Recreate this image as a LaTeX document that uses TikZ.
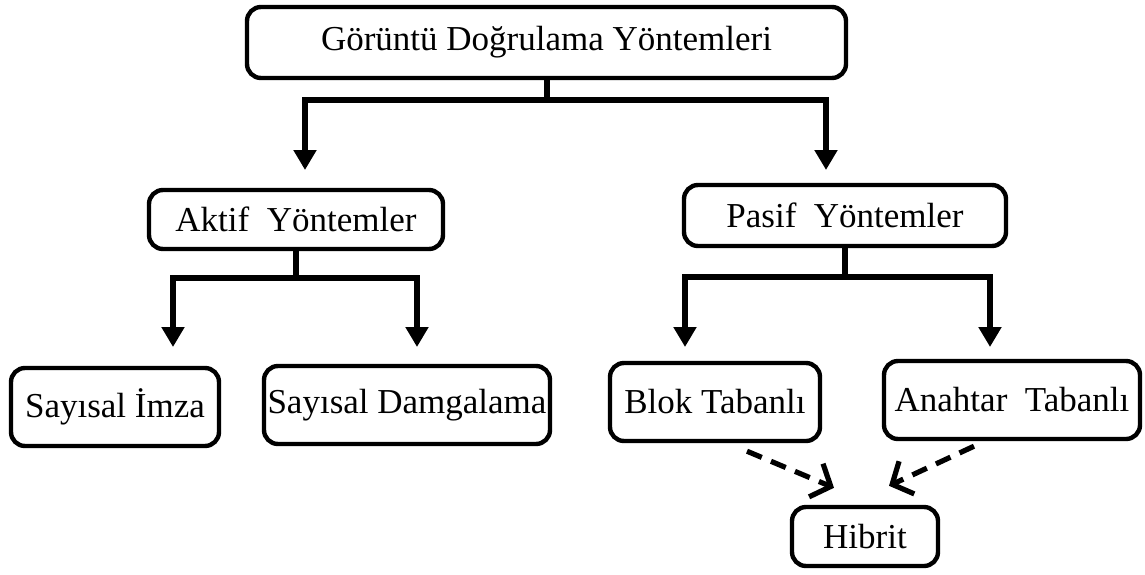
\documentclass[tikz,border=0pt]{standalone}
\usepackage{fontspec}
\setmainfont{Liberation Serif}
\usetikzlibrary{arrows.meta,positioning,calc}

\begin{document}
\begin{tikzpicture}[x=0.5pt,y=-0.5pt,
  box/.style={draw,line width=2.2pt,rounded corners=7pt,fill=white,inner sep=0pt,
    font=\fontsize{17.5}{20}\selectfont},
  stem/.style={line width=3pt},
  tree/.style={line width=3pt,-{Triangle[length=10pt,width=11pt]}},
  hint/.style={line width=2.6pt,dash pattern=on 8pt off 5pt,
    -{Straight Barb[length=8pt,width=18pt]}}]
\useasboundingbox (0,0) rectangle (1145,574);
% boxes
\node[box,minimum width=299.5pt,minimum height=35.5pt] (root) at (546.5,42.5) {Görüntü Doğrulama Yöntemleri};
\node[box,minimum width=147pt,minimum height=29.5pt] (aktif) at (296,219.5) {Aktif\ \ Yöntemler};
\node[box,minimum width=161pt,minimum height=30.5pt] (pasif) at (845,215.5) {Pasif\ \ Yöntemler};
\node[box,minimum width=104pt,minimum height=39pt] (imza) at (115,407) {Sayısal İmza};
\node[box,minimum width=143pt,minimum height=39pt] (damga) at (407,405) {Sayısal Damgalama};
\node[box,minimum width=105pt,minimum height=39pt] (blok) at (715,402) {Blok Tabanlı};
\node[box,minimum width=128pt,minimum height=39pt] (anahtar) at (1012,400) {Anahtar\ \ Tabanlı};
\node[box,minimum width=73pt,minimum height=29.5pt] (hibrit) at (865,536.5) {Hibrit};
% arrow ends
\coordinate (aktifIn) at (305,170);
\coordinate (pasifIn) at (826,170);
\coordinate (imzaIn) at (173,347);
\coordinate (damgaIn) at (417,347);
\coordinate (blokIn) at (685,347);
\coordinate (anahtarIn) at (990,347);
% root -> aktif / pasif
\draw[stem] (root.south) -- ++(0,20) coordinate (rootJ);
\draw[tree] (rootJ) -| (aktifIn);
\draw[tree] (rootJ) -| (pasifIn);
% aktif -> imza / damga
\draw[stem] (aktif.south) -- ++(0,27) coordinate (aktifJ);
\draw[tree] (aktifJ) -| (imzaIn);
\draw[tree] (aktifJ) -| (damgaIn);
% pasif -> blok / anahtar
\draw[stem] (pasif.south) -- ++(0,29) coordinate (pasifJ);
\draw[tree] (pasifJ) -| (blokIn);
\draw[tree] (pasifJ) -| (anahtarIn);
% dashed hints to hibrit
\coordinate (blokOut) at ($(blok.south)+(32,8)$);
\coordinate (anahtarOut) at ($(anahtar.south)+(-38,5)$);
\coordinate (hibritL) at ($(hibrit.north)+(-31,-17)$);
\coordinate (hibritR) at ($(hibrit.north)+(24,-19)$);
\draw[hint] (blokOut) -- (hibritL);
\draw[hint] (anahtarOut) -- (hibritR);
\end{tikzpicture}
\end{document}
